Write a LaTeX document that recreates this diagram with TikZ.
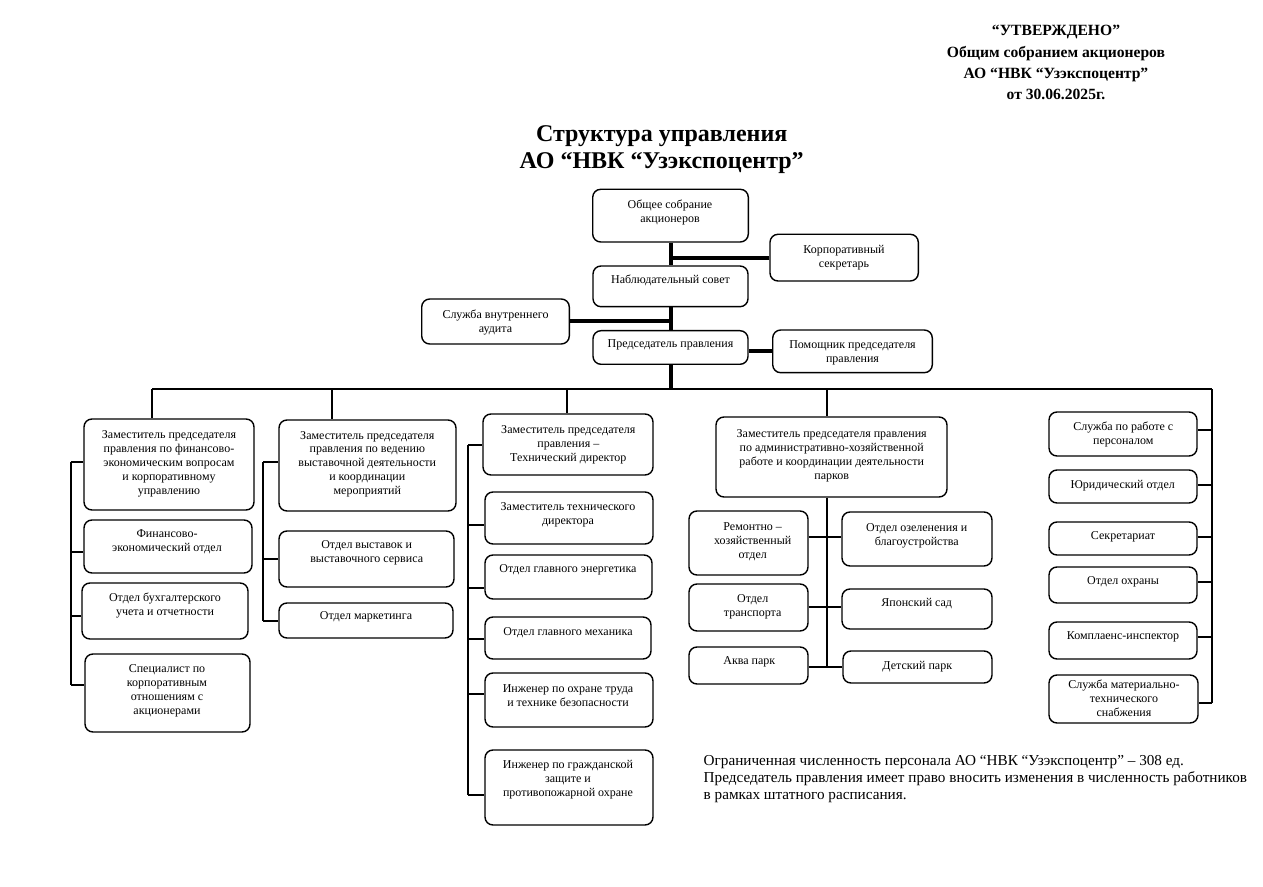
\documentclass[tikz,border=0pt]{standalone}
\usepackage{fontspec}
\setmainfont{Liberation Serif}
\begin{document}
\begin{tikzpicture}[x=0.5pt,y=-0.5pt,
  box/.style={draw, rounded corners=4pt, line width=0.7pt, inner sep=0pt},
  txt/.style={align=center, inner sep=0pt, font=\fontsize{6}{7}\selectfont},
  thk/.style={line width=2pt},
  thn/.style={line width=1pt}]
\useasboundingbox (0,0) rectangle (1263,887);
\newcommand\bx[5]{%
  \pgfmathsetmacro\bw{(#4-#2)*0.5}\pgfmathsetmacro\bh{(#5-#3)*0.5}%
  \node[box, minimum width=\bw pt, minimum height=\bh pt] (#1) at ({(#2+#4)/2},{(#3+#5)/2}) {};}
\newcommand\tx[4]{\node[txt] (#1t) at (#2,#3) {#4};}

% header
\node[align=center, inner sep=0pt, font=\fontsize{7.8}{10.7}\selectfont\bfseries] (hdr) at (1056,62.8)
 {“УТВЕРЖДЕНО”\\Общим собранием акционеров\\АО “НВК “Узэкспоцентр”\\от 30.06.2025г.};
\node[align=center, inner sep=0pt, font=\fontsize{12}{13.6}\selectfont\bfseries] (ttl) at (661.7,149.5)
 {Структура управления\\АО “НВК “Узэкспоцентр”};

% top boxes
\bx{gen}{592.7}{189.3}{748.3}{242}   \tx{gen}{670}{212}{Общее собрание\\акционеров}
\bx{corp}{770}{234.3}{918.3}{281}    \tx{corp}{844}{258}{Корпоративный\\секретарь}
\bx{nab}{593}{266}{748}{306.7}       \tx{nab}{670.5}{280}{Наблюдательный совет}
\bx{aud}{421.7}{299}{569.3}{344}     \tx{aud}{495.5}{322.5}{Служба внутреннего\\аудита}
\bx{pred}{593}{330.7}{748}{364.3}    \tx{pred}{670.5}{345}{Председатель правления}
\bx{pom}{772.7}{330}{932.3}{372.7}   \tx{pom}{852.5}{352.5}{Помощник председателя\\правления}

% column 1
\bx{za}{84}{419}{254}{510}    \tx{za}{169}{464.3}{Заместитель председателя\\правления по финансово-\\экономическим вопросам\\и корпоративному\\управлению}
\bx{fa}{84}{520}{252}{573}    \tx{fa}{167}{542}{Финансово-\\экономический отдел}
\bx{fb}{82}{583}{248}{639}    \tx{fb}{165}{605.5}{Отдел бухгалтерского\\учета и отчетности}
\bx{fc}{85}{654}{250}{732}    \tx{fc}{167}{691}{Специалист по\\корпоративным\\отношениям с\\акционерами}

% column 2
\bx{zb}{279}{420}{456}{511}   \tx{zb}{367.3}{464.3}{Заместитель председателя\\правления по ведению\\выставочной деятельности\\и координации\\мероприятий}
\bx{ga}{279}{531}{454}{587}   \tx{ga}{366.7}{553}{Отдел выставок и\\выставочного сервиса}
\bx{gb}{279}{603}{453}{638}   \tx{gb}{366}{617.3}{Отдел маркетинга}

% column 3
\bx{zc}{483}{414}{653}{475}   \tx{zc}{568.3}{445}{Заместитель председателя\\правления –\\Технический директор}
\bx{ha}{485}{492}{653}{544}   \tx{ha}{568}{514.5}{Заместитель технического\\директора}
\bx{hb}{485}{555}{652}{599}   \tx{hb}{568}{570}{Отдел главного энергетика}
\bx{hc}{485}{617}{651}{659}   \tx{hc}{568}{632.7}{Отдел главного механика}
\bx{hd}{485}{673}{653}{727}   \tx{hd}{568}{695.5}{Инженер по охране труда\\и технике безопасности}
\bx{he}{485}{750}{653}{825}   \tx{he}{568}{780}{Инженер по гражданской\\защите и\\противопожарной охране}

% column 4
\bx{zd}{716}{417}{947}{497}   \tx{zd}{831.7}{456.2}{Заместитель председателя правления\\по административно-хозяйственной\\работе и координации деятельности\\парков}
\bx{ka}{689}{511}{808}{575}   \tx{ka}{752.7}{541.5}{Ремонтно –\\хозяйственный\\отдел}
\bx{kb}{842}{512}{992}{566}   \tx{kb}{916.7}{535.5}{Отдел озеленения и\\благоустройства}
\bx{kc}{689}{584}{808}{631}   \tx{kc}{752.7}{607}{Отдел\\транспорта}
\bx{kd}{842}{589}{992}{629}   \tx{kd}{916.7}{603.3}{Японский сад}
\bx{ke}{689}{647}{808}{684}   \tx{ke}{749.3}{661.7}{Аква парк}
\bx{kf}{843}{651}{992}{683}   \tx{kf}{917.3}{666.7}{Детский парк}

% column 5
\bx{ra}{1049}{412}{1197}{456}  \tx{ra}{1123.3}{434.5}{Служба по работе с\\персоналом}
\bx{rb}{1049}{470}{1197}{503}  \tx{rb}{1122.7}{486}{Юридический отдел}
\bx{rc}{1049}{522}{1197}{555}  \tx{rc}{1123}{536.7}{Секретариат}
\bx{rd}{1049}{567}{1197}{603}  \tx{rd}{1123}{581.7}{Отдел охраны}
\bx{re}{1049}{622}{1197}{659}  \tx{re}{1123}{636.7}{Комплаенс-инспектор}
\bx{rf}{1049}{675}{1198}{723}  \tx{rf}{1124}{698.3}{Служба материально-\\технического\\снабжения}

% note
\node[anchor=west, align=left, inner sep=0pt, font=\fontsize{7.6}{8.6}\selectfont] (note) at (703.3,779)
 {Ограниченная численность персонала АО “НВК “Узэкспоцентр” – 308 ед.\\Председатель правления имеет право вносить изменения в численность работников\\в рамках штатного расписания.};

% top connectors
\draw[thk] (gen.south) -- (nab.north);
\draw[thk] (corp.west) -- (corp.west -| gen.south);
\draw[thk] (nab.south) -- (pred.north);
\draw[thk] (aud.east) -- (aud.east -| nab.south);
\draw[thk] (pom.west) -- (pom.west -| pred.east);
\coordinate (busL) at (152,389.5);
\coordinate (busR) at (1212,389.5);
\draw[thk] (pred.south) -- (pred.south |- busL);
\draw[thn] (busL) -- (busR);

% drops
\draw[thn] (busL) -- (busL |- za.north);
\coordinate (d2) at (331.5,389.5);
\draw[thn] (d2) -- (d2 |- zb.north);
\coordinate (d3) at (567,389.5);
\draw[thn] (d3) -- (d3 |- zc.north);
\coordinate (d4) at (826.7,389.5);
\draw[thn] (d4) -- (d4 |- zd.north);

% column 1 bracket
\coordinate (a1) at (70.7,462); \coordinate (a2) at (70.7,552);
\coordinate (a3) at (70.7,616); \coordinate (a4) at (70.7,685);
\draw[thn] (a1) -- (a4);
\draw[thn] (a1) -- (a1 -| za.west);
\draw[thn] (a2) -- (a2 -| fa.west);
\draw[thn] (a3) -- (a3 -| fb.west);
\draw[thn] (a4) -- (a4 -| fc.west);

% column 2 bracket
\coordinate (b1) at (263,462); \coordinate (b2) at (263,559); \coordinate (b3) at (263,621);
\draw[thn] (b1) -- (b3);
\draw[thn] (b1) -- (b1 -| zb.west);
\draw[thn] (b2) -- (b2 -| ga.west);
\draw[thn] (b3) -- (b3 -| gb.west);

% column 3 bracket
\coordinate (c1) at (468,445); \coordinate (c2) at (468,525); \coordinate (c3) at (468,588);
\coordinate (c4) at (468,639); \coordinate (c5) at (468,694); \coordinate (c6) at (468,795);
\draw[thn] (c1) -- (c6);
\draw[thn] (c1) -- (c1 -| zc.west);
\draw[thn] (c2) -- (c2 -| ha.west);
\draw[thn] (c3) -- (c3 -| hb.west);
\draw[thn] (c4) -- (c4 -| hc.west);
\draw[thn] (c5) -- (c5 -| hd.west);
\draw[thn] (c6) -- (c6 -| he.west);

% column 4 tree
\coordinate (e1) at (826.7,537); \coordinate (e2) at (826.7,607); \coordinate (e3) at (826.7,667);
\draw[thn] (zd.south -| e1) -- (e3);
\draw[thn] (e1 -| ka.east) -- (e1 -| kb.west);
\draw[thn] (e2 -| kc.east) -- (e2 -| kd.west);
\draw[thn] (e3 -| ke.east) -- (e3 -| kf.west);

% column 5 bracket
\coordinate (f6) at (1212,703);
\draw[thn] (busR) -- (f6);
\coordinate (f1) at (1212,430); \coordinate (f2) at (1212,485); \coordinate (f3) at (1212,537);
\coordinate (f4) at (1212,582); \coordinate (f5) at (1212,637);
\draw[thn] (f1) -- (f1 -| ra.east);
\draw[thn] (f2) -- (f2 -| rb.east);
\draw[thn] (f3) -- (f3 -| rc.east);
\draw[thn] (f4) -- (f4 -| rd.east);
\draw[thn] (f5) -- (f5 -| re.east);
\draw[thn] (f6) -- (f6 -| rf.east);
\end{tikzpicture}
\end{document}
